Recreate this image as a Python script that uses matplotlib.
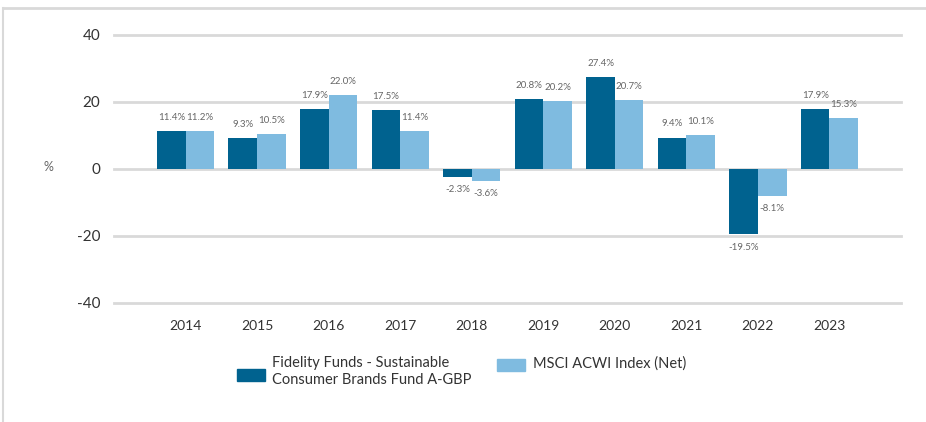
import matplotlib
matplotlib.use("Agg")
import matplotlib.pyplot as plt
import numpy as np
from matplotlib.patches import Rectangle
from matplotlib.lines import Line2D

years = ["2014", "2015", "2016", "2017", "2018", "2019", "2020", "2021", "2022", "2023"]
fund = [11.4, 9.3, 17.9, 17.5, -2.3, 20.8, 27.4, 9.4, -19.5, 17.9]
index = [11.2, 10.5, 22.0, 11.4, -3.6, 20.2, 20.7, 10.1, -8.1, 15.3]
series_names = ["Fidelity Funds - Sustainable\nConsumer Brands Fund A-GBP", "MSCI ACWI Index (Net)"]
yticks = [-40, -20, 0, 20, 40]

c_dark = "#00628f"
c_light = "#7fbbe0"
grid_c = "#d9d9d9"
lab_c = "#666666"
txt_c = "#333333"

plt.rcParams['font.family'] = ['Lato', 'DejaVu Sans']

fig = plt.figure(figsize=(9.26, 4.22), dpi=100)
ax = fig.add_axes([114/926, 119/422, (901-114)/926, 268/422])

x = np.arange(len(years))
w = 0.4
b1 = ax.bar(x - w/2, fund, w, color=c_dark, zorder=3)
b2 = ax.bar(x + w/2, index, w, color=c_light, zorder=3)

for bars, vals in ((b1, fund), (b2, index)):
    for r, v in zip(bars, vals):
        cx = r.get_x() + r.get_width()/2
        if v >= 0:
            ax.annotate(f"{v:.1f}%", (cx, v), xytext=(0, 6.5), textcoords="offset points",
                        ha="center", va="bottom", fontsize=7, color=lab_c)
        else:
            ax.annotate(f"{v:.1f}%", (cx, v), xytext=(0, -6), textcoords="offset points",
                        ha="center", va="top", fontsize=7, color=lab_c)

for t in yticks:
    ax.axhline(t, color=grid_c, lw=2, zorder=1, clip_on=False)

ax.set_ylim(-40, 40)
ax.set_xlim(-1, 10)
ax.set_yticks(yticks)
ax.set_yticklabels([str(t) for t in yticks], fontsize=11, color=txt_c)
ax.set_xticks(x)
ax.set_xticklabels(years, fontsize=10, color=txt_c)
ax.tick_params(length=0)
ax.tick_params(axis="y", pad=10)
ax.tick_params(axis="x", pad=12)
for s in ax.spines.values():
    s.set_visible(False)

fig.text(48/926, 1 - 167/422, "%", fontsize=9, color="#666666", ha="center", va="center")

# legend
fig.patches.append(Rectangle((237/926, 1 - 381/422), 28/926, 12/422, color=c_dark, transform=fig.transFigure))
fig.text(272/926, 1 - 356/422, series_names[0], fontsize=10.5, color=txt_c, ha="left", va="top", linespacing=1.25)
fig.patches.append(Rectangle((497/926, 1 - 371/422), 28/926, 12/422, color=c_light, transform=fig.transFigure))
fig.text(533/926, 1 - 356/422, series_names[1], fontsize=10.5, color=txt_c, ha="left", va="top")

# outer frame
fig.add_artist(Line2D([3/926, 1], [1 - 8/422, 1 - 8/422], color=grid_c, lw=2, transform=fig.transFigure))
fig.add_artist(Line2D([3/926, 3/926], [0, 1 - 8/422], color=grid_c, lw=1.5, transform=fig.transFigure))

fig.savefig("out.png", dpi=100)
